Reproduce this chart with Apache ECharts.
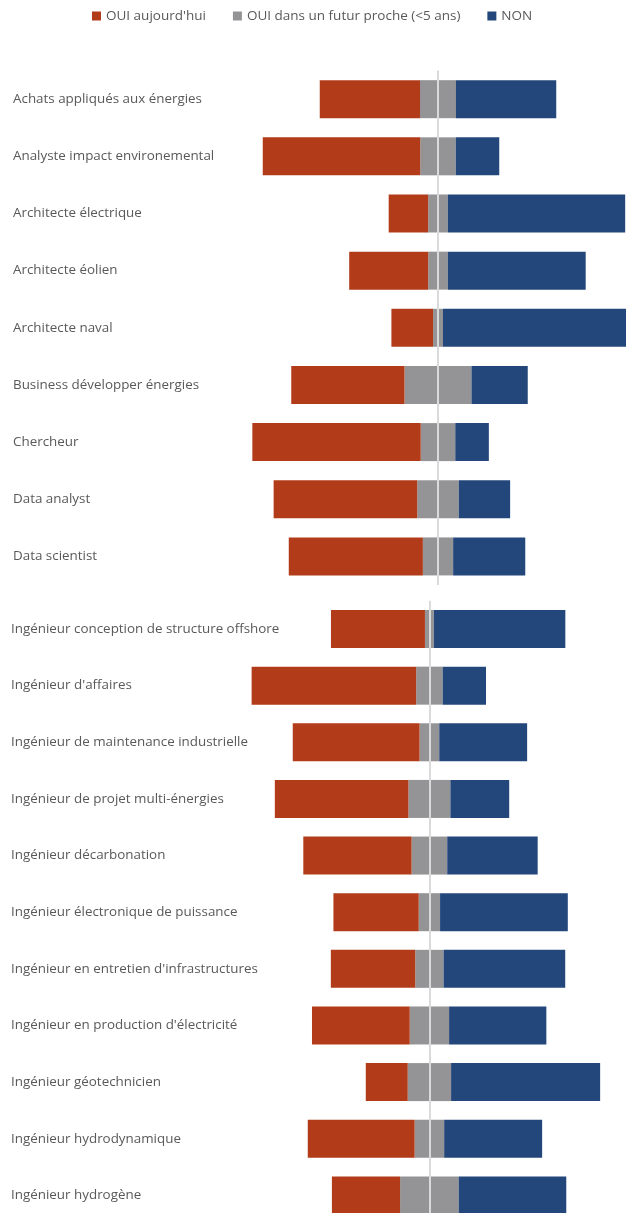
<!DOCTYPE html>
<html>
<head>
<meta charset="utf-8">
<script src="https://cdn.jsdelivr.net/npm/echarts@6/dist/echarts.min.js"></script>
<style>
html,body{margin:0;padding:0;background:#fff;}
#chart{width:626px;height:1213px;}
</style>
</head>
<body>
<div id="chart"></div>
<script>
// Categories (two panels)
const categoriesTop = [
  "Achats appliqués aux énergies",
  "Analyste impact environemental",
  "Architecte électrique",
  "Architecte éolien",
  "Architecte naval",
  "Business développer énergies",
  "Chercheur",
  "Data analyst",
  "Data scientist"
];
const categoriesBottom = [
  "Ingénieur conception de structure offshore",
  "Ingénieur d'affaires",
  "Ingénieur de maintenance industrielle",
  "Ingénieur de projet multi-énergies",
  "Ingénieur décarbonation",
  "Ingénieur électronique de puissance",
  "Ingénieur en entretien d'infrastructures",
  "Ingénieur en production d'électricité",
  "Ingénieur géotechnicien",
  "Ingénieur hydrodynamique",
  "Ingénieur hydrogène"
];
// Series values (%), top panel then bottom panel
const ouiAujourdhuiTop = [42.4, 66.6, 16.7, 33.4, 17.6, 47.9, 71.2, 60.7, 56.7];
const ouiFuturTop      = [15.2, 15.0, 8.3, 8.3, 4.2, 28.3, 14.6, 17.6, 12.8];
const nonTop           = [42.4, 18.4, 75.0, 58.3, 78.2, 23.8, 14.2, 21.7, 30.5];
const ouiAujourdhuiBottom = [40.1, 70.2, 54.1, 57.0, 46.2, 36.4, 36.0, 41.7, 17.9, 45.6, 29.1];
const ouiFuturBottom      = [3.8, 11.3, 8.4, 17.9, 15.2, 9.1, 12.1, 16.8, 18.5, 12.6, 25.0];
const nonBottom           = [56.1, 18.5, 37.5, 25.1, 38.6, 54.5, 51.9, 41.5, 63.6, 41.8, 45.9];

const legendNames = ["OUI aujourd'hui", "OUI dans un futur proche (<5 ans)", "NON"];
const colors = { red: '#b23c19', gray: '#949496', blue: '#24477b' };

function panelSeries(idx, red, gray, blue) {
  const stack = 'p' + idx;
  const common = { type: 'bar', stack: stack, xAxisIndex: idx, yAxisIndex: idx, barWidth: 38, silent: true };
  return [
    Object.assign({}, common, { name: legendNames[1], itemStyle: { color: colors.gray }, data: gray.map(v => -v / 2) }),
    Object.assign({}, common, { name: legendNames[0], itemStyle: { color: colors.red }, data: red.map(v => -v) }),
    Object.assign({}, common, { name: legendNames[1], itemStyle: { color: colors.gray }, data: gray.map(v => v / 2) }),
    Object.assign({}, common, { name: legendNames[2], itemStyle: { color: colors.blue }, data: blue.slice(),
      markLine: { silent: true, symbol: 'none', z: 10, label: { show: false },
        lineStyle: { color: '#dadada', width: 2, type: 'solid' }, data: [{ xAxis: 0 }] } })
  ];
}

const labelStyle = { color: '#595959', fontFamily: 'Open Sans', fontSize: 13.4, align: 'left', verticalAlign: 'middle', padding: [0, 0, 5, 0] };

const chart = echarts.init(document.getElementById('chart'), null, { renderer: 'canvas' });
chart.setOption({
  animation: false,
  backgroundColor: '#ffffff',
  legend: {
    data: legendNames,
    left: 92, top: 9, padding: 0,
    icon: 'rect', itemWidth: 9, itemHeight: 9, itemGap: 27,
    textStyle: { color: '#595959', fontFamily: 'Open Sans', fontSize: 13.5 }
  },
  grid: [
    { left: 248.8, width: 378.4, top: 70.6, height: 514.4, containLabel: false, outerBoundsMode: 'none' },
    { left: 241.9, width: 375, top: 600.7, height: 623, containLabel: false, outerBoundsMode: 'none' }
  ],
  xAxis: [
    { type: 'value', gridIndex: 0, min: -80, max: 80, show: false, splitLine: { show: false } },
    { type: 'value', gridIndex: 1, min: -80, max: 80, show: false, splitLine: { show: false } }
  ],
  yAxis: [
    { type: 'category', gridIndex: 0, inverse: true, data: categoriesTop,
      axisLine: { show: false }, axisTick: { show: false },
      axisLabel: Object.assign({ margin: 235.8 }, labelStyle) },
    { type: 'category', gridIndex: 1, inverse: true, data: categoriesBottom,
      axisLine: { show: false }, axisTick: { show: false },
      axisLabel: Object.assign({ margin: 230.9 }, labelStyle) }
  ],
  series: [].concat(
    panelSeries(0, ouiAujourdhuiTop, ouiFuturTop, nonTop),
    panelSeries(1, ouiAujourdhuiBottom, ouiFuturBottom, nonBottom)
  )
});
</script>
</body>
</html>
